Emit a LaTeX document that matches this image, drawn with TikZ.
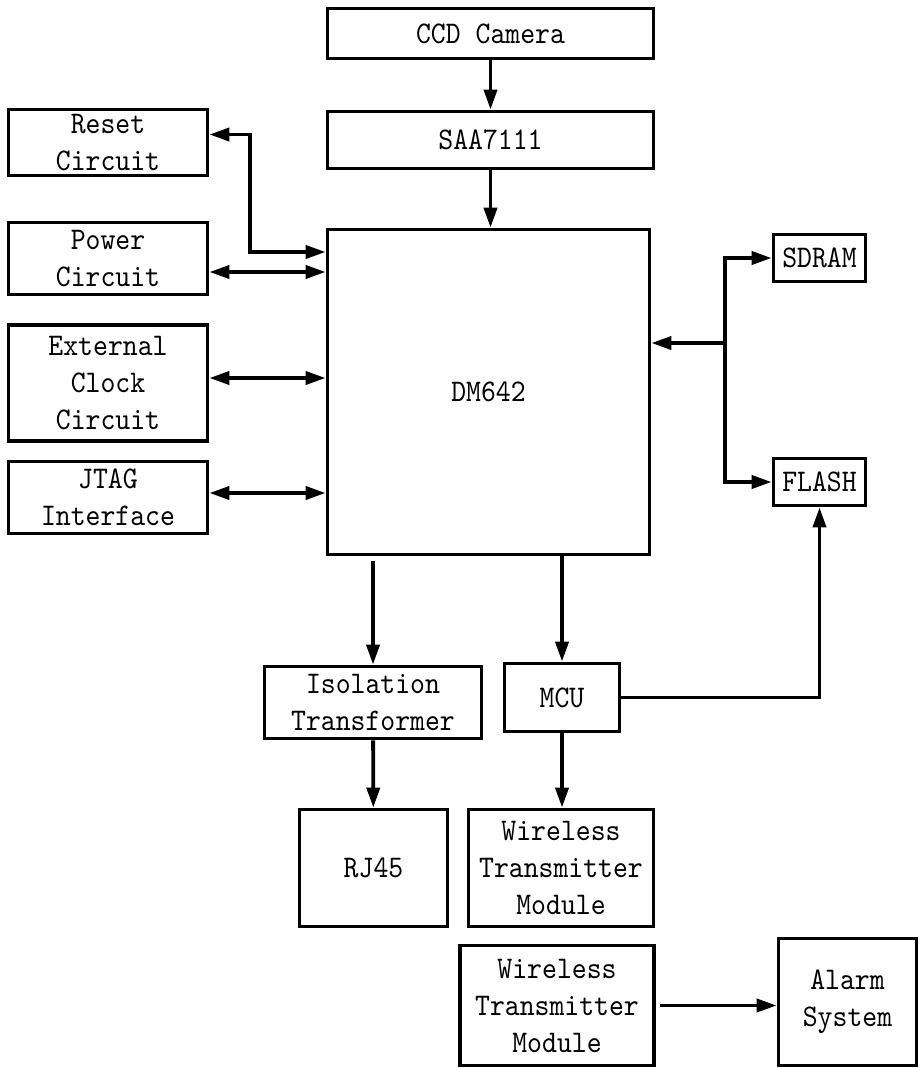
\documentclass[tikz,border=0pt]{standalone}
\usepackage{fontspec}
\setmonofont{lmmono10-regular.otf}[FakeStretch=0.9]
\usetikzlibrary{arrows.meta,positioning,calc}

\begin{document}
\begin{tikzpicture}[x=1pt, y=-1pt, font=\ttfamily\fontsize{31.5}{37}\selectfont,
  >={Triangle[length=20pt,width=13pt]},
  unit/.style={draw, line width=3.8pt, align=center, inner sep=0pt},
  line/.style={->, line width=3.8pt},
  both/.style={<->, line width=3.8pt}]
\useasboundingbox (0,0) rectangle (921,1068);
% video path
\node[unit, minimum width=326pt, minimum height=50pt] (ccd) at (490.5,33.5) {CCD Camera};
\node[unit, minimum width=326pt, minimum height=57pt] (saa) at (490.5,140) {SAA7111};
\node[unit, minimum width=322pt, minimum height=325pt] (dm) at (488.5,392) {DM642};
% peripherals on the left
\node[unit, minimum width=199pt, minimum height=66pt] (reset) at (108,142.5) {Reset\\Circuit};
\node[unit, minimum width=199pt, minimum height=72pt] (power) at (108,258.5) {Power\\Circuit};
\node[unit, minimum width=199pt, minimum height=116pt] (clock) at (108,383) {External\\Clock\\Circuit};
\node[unit, minimum width=199pt, minimum height=72pt] (jtag) at (108,497.5) {JTAG\\Interface};
% memory
\node[unit, minimum width=92pt, minimum height=47pt] (sdram) at (819.5,258) {SDRAM};
\node[unit, minimum width=92pt, minimum height=47pt] (flash) at (819.5,482) {FLASH};
% lower part
\node[unit, minimum width=217pt, minimum height=72pt] (iso) at (373,702.5) {Isolation\\Transformer};
\node[unit, minimum width=115pt, minimum height=68pt] (mcu) at (562,697.5) {MCU};
\node[unit, minimum width=148pt, minimum height=117pt] (rj) at (373.5,868) {RJ45};
\node[unit, minimum width=185pt, minimum height=117pt] (wtx) at (561,868) {Wireless\\Transmitter\\Module};
\node[unit, minimum width=194pt, minimum height=120pt] (wrx) at (557,1005.5) {Wireless\\Transmitter\\Module};
\node[unit, minimum width=138pt, minimum height=127pt] (alarm) at (847.5,1002) {Alarm\\System};
% ports and bends
\coordinate (resetport) at ([yshift=140pt]dm.west);
\coordinate (powerport) at ([yshift=120pt]dm.west);
\coordinate (clockport) at ([yshift=14pt]dm.west);
\coordinate (jtagport) at ([yshift=-101pt]dm.west);
\coordinate (bend) at (250,0);
\coordinate (bus) at (725,343);
\draw[line] (ccd) -- (saa);
\draw[line] (saa.south) -- (saa.south |- dm.north);
\draw[both] ([yshift=8pt]reset.east) -| (bend |- resetport) -- (resetport);
\draw[both] (power.east |- powerport) -- (powerport);
\draw[both] (clock.east |- clockport) -- (clockport);
\draw[both] (jtag.east |- jtagport) -- (jtagport);
\draw[line] (bus) -- (dm.east |- bus);
\draw[line] (bus) |- (sdram);
\draw[line] (bus) |- (flash);
\draw[line, shorten <=5pt] (iso.north |- dm.south) -- (iso);
\draw[line] (mcu.north |- dm.south) -- (mcu);
\draw[line] (mcu.east) -| (flash);
\draw[line] (iso) -- (rj);
\draw[line] (mcu.south) -- (mcu.south |- wtx.north);
\draw[line, shorten <=4pt] (wrx.east) -- (alarm.west |- wrx.east);
\end{tikzpicture}
\end{document}
